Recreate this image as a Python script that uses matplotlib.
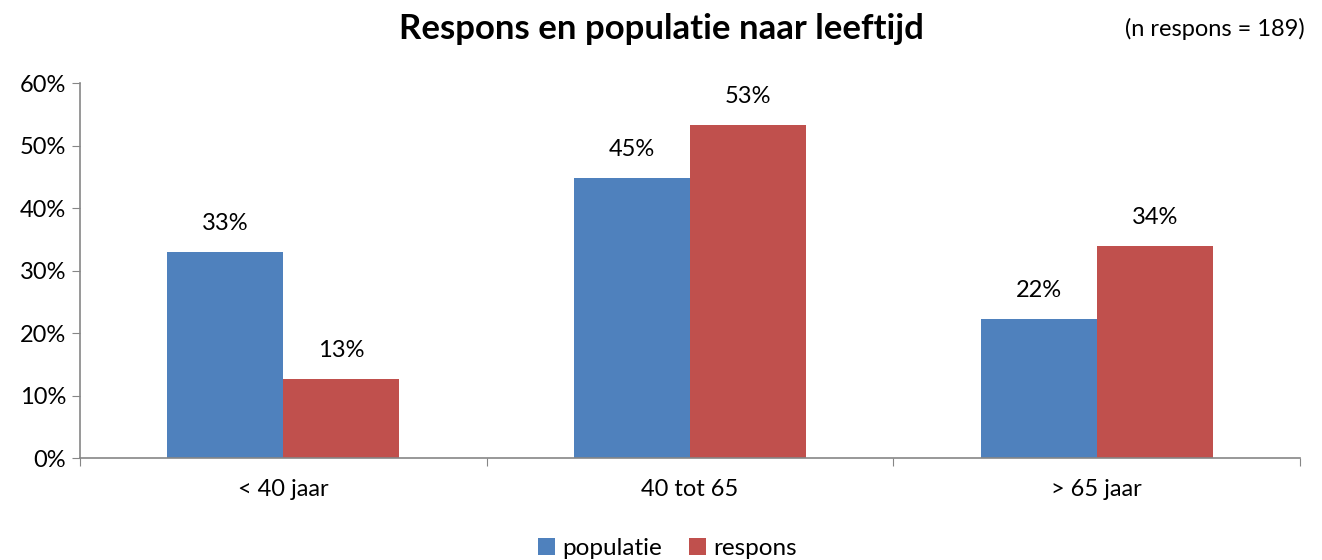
import matplotlib.pyplot as plt
import numpy as np

# data
categorieen = ["< 40 jaar", "40 tot 65", "> 65 jaar"]
populatie = [33.0, 44.8, 22.3]
respons = [12.7, 53.4, 34.0]

plt.rcParams['font.family'] = ['Lato', 'DejaVu Sans']

fig = plt.figure(figsize=(13.22, 5.6), dpi=100)
ax = fig.add_axes([0.0605, 0.182, 0.923, 0.669])

x = np.arange(len(categorieen))
w = 0.285
b1 = ax.bar(x - w / 2, populatie, w, color="#4F81BD", label="populatie")
b2 = ax.bar(x + w / 2, respons, w, color="#C0504D", label="respons")

for bars in (b1, b2):
    for r in bars:
        h = r.get_height()
        ax.text(r.get_x() + r.get_width() / 2, h + 2.9, f"{h:.0f}%",
                ha="center", va="bottom", fontsize=17)

ax.set_ylim(0, 60)
ax.set_yticks(range(0, 61, 10))
ax.set_yticklabels([f"{v}%" for v in range(0, 61, 10)], fontsize=17)
ax.set_xlim(-0.5, 2.5)
ax.set_xticks([-0.5, 0.5, 1.5, 2.5])
ax.set_xticklabels([])
ax.set_xticks(x, minor=True)
ax.set_xticklabels(categorieen, minor=True, fontsize=17)
ax.tick_params(axis="x", which="minor", length=0, pad=15)
ax.tick_params(axis="x", which="major", length=6, color="#868686")
ax.tick_params(axis="y", length=6, color="#868686", pad=4)

for s in ("top", "right"):
    ax.spines[s].set_visible(False)
for s in ("left", "bottom"):
    ax.spines[s].set_color("#868686")
    ax.spines[s].set_linewidth(1.2)

fig.text(0.5, 0.948, "Respons en populatie naar leeftijd", ha="center", va="center",
         fontsize=25, fontweight="bold")
fig.text(0.987, 0.948, "(n respons = 189)", ha="right", va="center", fontsize=17)

fig.legend(loc="center", bbox_to_anchor=(0.505, 0.02), ncol=2, frameon=False,
           fontsize=17.5, handlelength=0.7, handleheight=0.7, handletextpad=0.3,
           columnspacing=1.1)

fig.savefig("out.png", dpi=100)
